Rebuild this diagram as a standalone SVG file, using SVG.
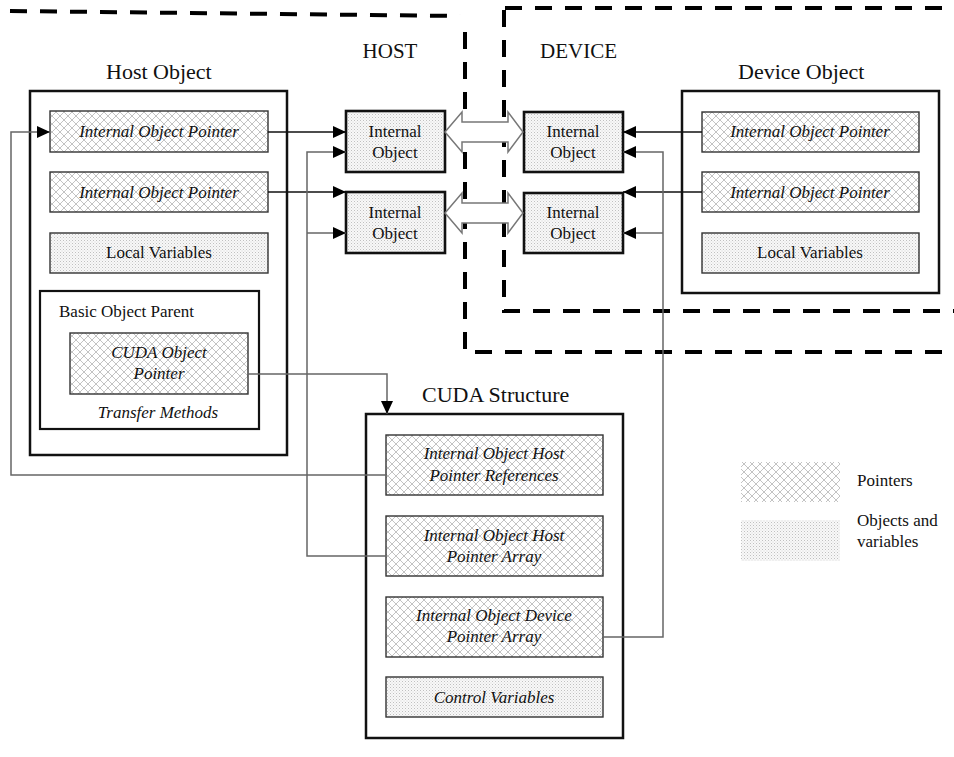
<svg xmlns="http://www.w3.org/2000/svg" width="954" height="757" viewBox="0 0 954 757">
  <defs>
    <!-- crosshatch fill used for pointer fields -->
    <pattern id="hatch" width="8" height="8" patternUnits="userSpaceOnUse">
      <rect width="8" height="8" fill="#ffffff"/>
      <path d="M0,0 L8,8 M8,0 L0,8" stroke="#bcbcbc" stroke-width="0.9"/>
    </pattern>
    <!-- fine stipple fill used for objects and variables -->
    <pattern id="dots" width="3" height="3" patternUnits="userSpaceOnUse">
      <rect width="3" height="3" fill="#f8f8f8"/>
      <rect x="0" y="0" width="1" height="1" fill="#c0c0c0"/>
      <rect x="1.5" y="1.5" width="1" height="1" fill="#d6d6d6"/>
    </pattern>
    <marker id="arrow" markerUnits="userSpaceOnUse" markerWidth="13" markerHeight="12" refX="13" refY="6" orient="auto">
      <path d="M0,0 L13,6 L0,12 Z" fill="#000"/>
    </marker>
    <style>
      .txt { font-family: "Liberation Serif", "Times New Roman", serif; fill: #111; }
      .title { font-size: 22px; }
      .region { font-size: 21px; }
      .body { font-size: 17px; }
      .it { font-style: italic; }
      .mid { text-anchor: middle; }
      .frame { fill: #ffffff; stroke: #111; stroke-width: 2.5; }
      .subframe { fill: #ffffff; stroke: #111; stroke-width: 2.2; }
      .ptr { fill: url(#hatch); stroke: #333; stroke-width: 1.4; }
      .var { fill: url(#dots); stroke: #333; stroke-width: 1.4; }
      .iobj { fill: url(#dots); stroke: #111; stroke-width: 2.6; }
      .dash { fill: none; stroke: #000; stroke-width: 4; stroke-dasharray: 17 13; }
      .link { fill: none; stroke: #111; stroke-width: 1.6; }
      .long { fill: none; stroke: #666; stroke-width: 1.5; }
      .block { fill: #ffffff; stroke: #777; stroke-width: 1.5; }
    </style>
  </defs>

  <rect width="954" height="757" fill="#ffffff"/>

  <!-- memory region boundaries -->
  <g id="regions">
    <path class="dash" d="M10,11 L460,16"/>
    <path class="dash" d="M465,32 L465,352 L954,352"/>
    <path class="dash" d="M505,8 L954,8"/>
    <path class="dash" d="M504,10 L504,311 L954,311"/>
    <text class="txt region mid" x="390" y="58">HOST</text>
    <text class="txt region" x="540" y="58">DEVICE</text>
  </g>

  <!-- host object -->
  <g id="host-object">
    <text class="txt title" x="106" y="79">Host Object</text>
    <rect class="frame" x="30" y="91" width="257" height="364"/>
    <rect class="ptr" x="50" y="111" width="218" height="41"/>
    <text class="txt body it mid" x="159" y="137">Internal Object Pointer</text>
    <rect class="ptr" x="50" y="172" width="218" height="40"/>
    <text class="txt body it mid" x="159" y="198">Internal Object Pointer</text>
    <rect class="var" x="50" y="233" width="218" height="40"/>
    <text class="txt body mid" x="159" y="258">Local Variables</text>
  </g>

  <g id="basic-object-parent">
    <rect class="subframe" x="40" y="291" width="219" height="138"/>
    <text class="txt body" x="59" y="317">Basic Object Parent</text>
    <rect class="ptr" x="70" y="333" width="178" height="61"/>
    <text class="txt body it mid" x="159" y="358">CUDA Object</text>
    <text class="txt body it mid" x="159" y="379">Pointer</text>
    <text class="txt body it mid" x="158" y="418">Transfer Methods</text>
  </g>

  <!-- internal objects on the host -->
  <g id="host-internal-1">
    <rect class="iobj" x="346" y="111" width="99" height="61"/>
    <text class="txt body mid" x="395" y="137">Internal</text>
    <text class="txt body mid" x="395" y="158">Object</text>
  </g>
  <g id="host-internal-2">
    <rect class="iobj" x="346" y="192" width="99" height="61"/>
    <text class="txt body mid" x="395" y="218">Internal</text>
    <text class="txt body mid" x="395" y="239">Object</text>
  </g>

  <!-- internal objects on the device -->
  <g id="device-internal-1">
    <rect class="iobj" x="524" y="112" width="99" height="60"/>
    <text class="txt body mid" x="573" y="137">Internal</text>
    <text class="txt body mid" x="573" y="158">Object</text>
  </g>
  <g id="device-internal-2">
    <rect class="iobj" x="524" y="193" width="99" height="60"/>
    <text class="txt body mid" x="573" y="218">Internal</text>
    <text class="txt body mid" x="573" y="239">Object</text>
  </g>

  <!-- device object -->
  <g id="device-object">
    <text class="txt title" x="738" y="79">Device Object</text>
    <rect class="frame" x="682" y="91" width="257" height="202"/>
    <rect class="ptr" x="702" y="112" width="217" height="40"/>
    <text class="txt body it mid" x="810" y="137">Internal Object Pointer</text>
    <rect class="ptr" x="702" y="172" width="217" height="40"/>
    <text class="txt body it mid" x="810" y="198">Internal Object Pointer</text>
    <rect class="var" x="702" y="233" width="217" height="40"/>
    <text class="txt body mid" x="810" y="258">Local Variables</text>
  </g>

  <!-- CUDA structure -->
  <g id="cuda-structure">
    <text class="txt title" x="422" y="402">CUDA Structure</text>
    <rect class="frame" x="366" y="414" width="257" height="324"/>
    <rect class="ptr" x="386" y="435" width="217" height="60"/>
    <text class="txt body it mid" x="494" y="459">Internal Object Host</text>
    <text class="txt body it mid" x="494" y="481">Pointer References</text>
    <rect class="ptr" x="386" y="516" width="217" height="60"/>
    <text class="txt body it mid" x="494" y="541">Internal Object Host</text>
    <text class="txt body it mid" x="494" y="562">Pointer Array</text>
    <rect class="ptr" x="386" y="597" width="217" height="60"/>
    <text class="txt body it mid" x="494" y="621">Internal Object Device</text>
    <text class="txt body it mid" x="494" y="642">Pointer Array</text>
    <rect class="var" x="386" y="677" width="217" height="40"/>
    <text class="txt body it mid" x="494" y="703">Control Variables</text>
  </g>

  <!-- legend -->
  <g id="legend">
    <rect x="741" y="462" width="99" height="40" fill="url(#hatch)"/>
    <text class="txt body" x="857" y="486">Pointers</text>
    <rect x="741" y="520" width="99" height="41" fill="url(#dots)"/>
    <text class="txt body" x="857" y="526">Objects and</text>
    <text class="txt body" x="857" y="547">variables</text>
  </g>

  <!-- connectors -->
  <g id="connectors">
    <!-- host/device copies -->
    <polygon class="block" points="445,132 462,112 462,122 508,122 508,112 523,132 508,152 508,142 462,142 462,152"/>
    <polygon class="block" points="445,213 462,193 462,203 508,203 508,193 523,213 508,233 508,223 462,223 462,233"/>

    <!-- host pointers to host internal objects -->
    <path class="link" d="M268,132 H346" marker-end="url(#arrow)"/>
    <path class="link" d="M268,192 H346" marker-end="url(#arrow)"/>

    <!-- device pointers to device internal objects -->
    <path class="link" d="M702,132 H623" marker-end="url(#arrow)"/>
    <path class="link" d="M702,192 H623" marker-end="url(#arrow)"/>

    <!-- CUDA object pointer to CUDA structure -->
    <path class="long" d="M248,374 H387 V414" marker-end="url(#arrow)"/>

    <!-- host pointer references back to the host object -->
    <path class="long" d="M386,475 H11 V132 H50" marker-end="url(#arrow)"/>

    <!-- host pointer array to host internal objects -->
    <path class="long" d="M386,556 H307 V152 H346" marker-end="url(#arrow)"/>
    <path class="long" d="M307,233 H346" marker-end="url(#arrow)"/>

    <!-- device pointer array to device internal objects -->
    <path class="long" d="M603,637 H663 V152 H623" marker-end="url(#arrow)"/>
    <path class="long" d="M663,233 H623" marker-end="url(#arrow)"/>
  </g>
</svg>
